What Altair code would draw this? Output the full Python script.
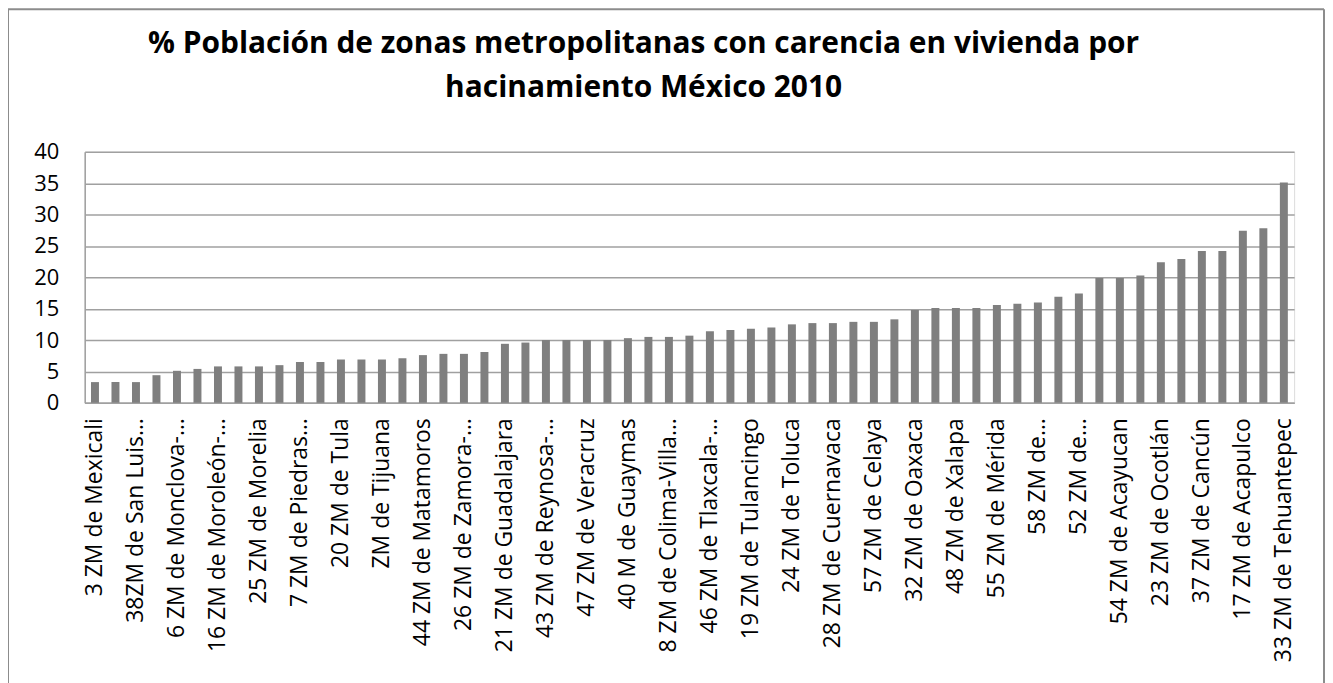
import json
import altair as alt
import pandas as pd

# Values (59 bars, ordered ascending)
values = [3.3, 3.3, 3.3, 4.4, 5.1, 5.4, 5.8, 5.8, 5.8, 6.0,
          6.5, 6.5, 6.9, 6.9, 6.9, 7.1, 7.6, 7.8, 7.8, 8.1,
          9.4, 9.6, 10.0, 10.0, 10.0, 10.0, 10.3, 10.5, 10.5, 10.7,
          11.4, 11.6, 11.8, 12.0, 12.5, 12.7, 12.7, 12.9, 12.9, 13.3,
          14.8, 15.1, 15.1, 15.1, 15.6, 15.8, 16.0, 16.9, 17.4, 19.9,
          19.9, 20.3, 22.4, 22.9, 24.2, 24.2, 27.4, 27.8, 35.1]

# Labels shown on the axis (every other bar, starting with the first)
shown_labels = ["3 ZM de Mexicali", "38ZM de San Luis…", "6 ZM de Monclova-…",
                "16 ZM de Moroleón-…", "25 ZM de Morelia", "7 ZM de Piedras…",
                "20 ZM de Tula", "ZM de Tijuana", "44 ZM de Matamoros",
                "26 ZM de Zamora-…", "21 ZM de Guadalajara", "43 ZM de Reynosa-…",
                "47 ZM de Veracruz", "40 M de Guaymas", "8 ZM de Colima-Villa…",
                "46 ZM de Tlaxcala-…", "19 ZM de Tulancingo", "24 ZM de Toluca",
                "28 ZM de Cuernavaca", "57 ZM de Celaya", "32 ZM de Oaxaca",
                "48 ZM de Xalapa", "55 ZM de Mérida", "58 ZM de…", "52 ZM de…",
                "54 ZM de Acayucan", "23 ZM de Ocotlán", "37 ZM de Cancún",
                "17 ZM de Acapulco", "33 ZM de Tehuantepec"]

y_ticks = [0, 5, 10, 15, 20, 25, 30, 35, 40]
title_line1 = "% Población de zonas metropolitanas con carencia en vivienda por"
title_line2 = "hacinamiento México 2010"

idx = list(range(1, len(values) + 1))
label_by_idx = [shown_labels[(i - 1) // 2] if i % 2 == 1 else "" for i in idx]
df = pd.DataFrame({"idx": idx, "valor": values})

W, H = 1214, 252
PL, PT = 77, 143
TOTAL_W, TOTAL_H = 1322, 690
PR = TOTAL_W - PL - W
PB = TOTAL_H - PT - H

label_expr = json.dumps(label_by_idx, ensure_ascii=False) + "[datum.value - 1]"

bars = alt.Chart(df).mark_bar(color="#7f7f7f").encode(
    x=alt.X("idx:O",
            scale=alt.Scale(paddingInner=0.611, paddingOuter=0.306),
            axis=alt.Axis(title=None, labelAngle=270, labelAlign="right",
                          labelBaseline="middle", labelPadding=15, ticks=False,
                          labelExpr=label_expr, labelFont="Open Sans",
                          labelFontSize=23, labelColor="#000000", labelLimit=500,
                          domainColor="#a0a0a0", domainWidth=1.5, labelOverlap=False)),
    y=alt.Y("valor:Q",
            scale=alt.Scale(domain=[0, 40], nice=False),
            axis=alt.Axis(title=None, values=y_ticks, ticks=False, labelPadding=26,
                          labelFont="Open Sans", labelFontSize=22,
                          labelColor="#000000", domainColor="#a0a0a0",
                          domainWidth=1.5, gridColor="#a0a0a0", gridWidth=1.5)),
)

title_df = pd.DataFrame({"t": [0]})
t1 = alt.Chart(title_df).mark_text(
    text=title_line1, font="Open Sans", fontSize=30, fontWeight="bold",
    color="#000000", align="center", baseline="alphabetic").encode(
    x=alt.value(561), y=alt.value(-99))
t2 = alt.Chart(title_df).mark_text(
    text=title_line2, font="Open Sans", fontSize=30, fontWeight="bold",
    color="#000000", align="center", baseline="alphabetic").encode(
    x=alt.value(561), y=alt.value(-55))

border_df = pd.DataFrame({"b": [0]})
left = alt.Chart(border_df).mark_rule(color="#8c8c8c", strokeWidth=2).encode(
    x=alt.value(-PL), y=alt.value(-PT), y2=alt.value(TOTAL_H))
top = alt.Chart(border_df).mark_rule(color="#8c8c8c", strokeWidth=2).encode(
    x=alt.value(-PL), x2=alt.value(W + PR - 1), y=alt.value(-PT))
right = alt.Chart(border_df).mark_rule(color="#8c8c8c", strokeWidth=2).encode(
    x=alt.value(W + PR - 1), y=alt.value(-PT), y2=alt.value(TOTAL_H))

chart = alt.layer(bars, t1, t2, left, top, right).properties(
    width=W, height=H,
    autosize=alt.AutoSizeParams(type="none"),
    padding={"left": PL, "top": PT, "right": PR, "bottom": PB},
).configure_view(stroke=None).configure(background="#ffffff")

chart.save("out.html", embed_options={"renderer": "svg", "actions": False})
